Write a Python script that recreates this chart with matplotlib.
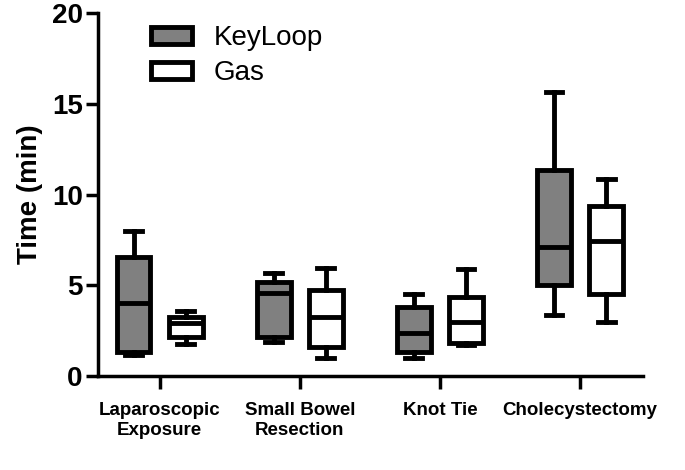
import matplotlib
matplotlib.use("Agg")
import matplotlib.pyplot as plt
from matplotlib.patches import Patch

plt.rcParams['font.family'] = ['Liberation Sans', 'DejaVu Sans']

tasks = ["Laparoscopic\nExposure", "Small Bowel\nResection", "Knot Tie", "Cholecystectomy"]

# min, q1, median, q3, max for each task
keyloop_min = [1.15, 1.9, 1.0, 3.35]
keyloop_q1 = [1.3, 2.15, 1.3, 5.0]
keyloop_med = [4.0, 4.6, 2.35, 7.1]
keyloop_q3 = [6.55, 5.2, 3.8, 11.35]
keyloop_max = [8.0, 5.65, 4.5, 15.65]

gas_min = [1.75, 1.0, 1.7, 2.95]
gas_q1 = [2.15, 1.6, 1.8, 4.5]
gas_med = [2.9, 3.25, 3.0, 7.45]
gas_q3 = [3.25, 4.75, 4.35, 9.35]
gas_max = [3.6, 5.95, 5.9, 10.85]


def make_stats(lo, q1, med, q3, hi):
    return [dict(whislo=a, q1=b, med=c, q3=d, whishi=e)
            for a, b, c, d, e in zip(lo, q1, med, q3, hi)]


fig = plt.figure(figsize=(6.85, 4.70), dpi=100)
ax = fig.add_axes([0.143, 0.2, 0.796, 0.772])

lw = 3.5
x = list(range(len(tasks)))
for stats, off, fc in [(make_stats(keyloop_min, keyloop_q1, keyloop_med, keyloop_q3, keyloop_max), -0.186, '#808080'),
                       (make_stats(gas_min, gas_q1, gas_med, gas_q3, gas_max), 0.186, 'white')]:
    ax.bxp(stats, positions=[i + off for i in x], widths=0.24, patch_artist=True,
           showfliers=False, manage_ticks=False,
           boxprops=dict(facecolor=fc, edgecolor='black', linewidth=lw),
           medianprops=dict(color='black', linewidth=lw),
           whiskerprops=dict(color='black', linewidth=lw),
           capprops=dict(color='black', linewidth=lw),
           capwidths=0.12)

ax.set_xlim(-0.44, 3.45)
ax.set_ylim(0, 20)
ax.set_yticks([0, 5, 10, 15, 20])
ax.set_xticks(x)
ax.set_xticklabels(tasks, fontsize=13.5, fontweight='bold')
for lab in ax.get_yticklabels():
    lab.set_fontsize(20)
    lab.set_fontweight('bold')
ax.set_ylabel("Time (min)", fontsize=20, fontweight='bold', labelpad=6)

for s in ['top', 'right']:
    ax.spines[s].set_visible(False)
for s in ['left', 'bottom']:
    ax.spines[s].set_linewidth(2.5)
ax.tick_params(axis='both', width=2.5, length=9, direction='out')
ax.tick_params(axis='x', pad=10)
ax.tick_params(axis='y', pad=2)

handles = [Patch(facecolor='#808080', edgecolor='black', linewidth=lw, label='KeyLoop'),
           Patch(facecolor='white', edgecolor='black', linewidth=lw, label='Gas')]
ax.legend(handles=handles, loc='upper left', bbox_to_anchor=(0.052, 1.035), frameon=False,
          fontsize=20, handlelength=1.45, handleheight=0.6, labelspacing=0.32, handletextpad=0.8)

fig.savefig("out.png", dpi=100)
